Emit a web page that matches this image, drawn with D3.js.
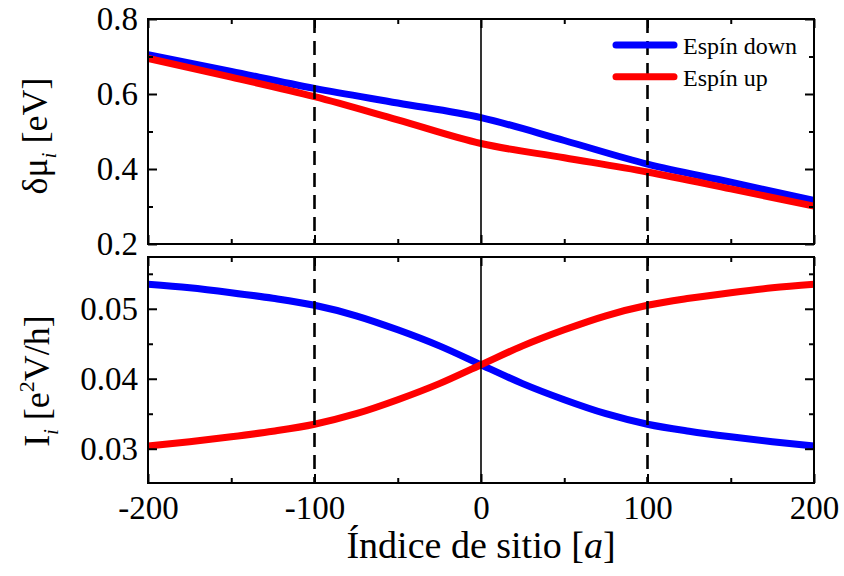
<!DOCTYPE html>
<html>
<head>
<meta charset="utf-8">
<script src="https://cdn.jsdelivr.net/npm/d3@7"></script>
<style>
  body { margin: 0; background: #fff; }
  svg text { font-family: "Liberation Serif", "Times New Roman", serif; fill: #000; }
</style>
</head>
<body>
<div id="chart"></div>
<script>
// data
var sitesTop = [-200, -150, -100, -50, 0, 50, 100, 150, 200];
var muDown = [0.705, 0.660, 0.615, 0.576, 0.537, 0.476, 0.413, 0.365, 0.316];
var muUp = [0.695, 0.645, 0.593, 0.531, 0.468, 0.430, 0.392, 0.347, 0.301];

var sitesBottom = [-200, -175, -150, -125, -100, -75, -50, -25, 0, 25, 50, 75, 100, 125, 150, 175, 200];
var curDown = [0.0535, 0.0530, 0.0523, 0.0515, 0.0505, 0.0490, 0.0470, 0.0447, 0.0420,
  0.0393, 0.0370, 0.0350, 0.0335, 0.0325, 0.0317, 0.0310, 0.0304];
var curUp = [0.0304, 0.0310, 0.0317, 0.0325, 0.0335, 0.0350, 0.0370, 0.0393, 0.0420,
  0.0447, 0.0470, 0.0490, 0.0505, 0.0515, 0.0523, 0.0530, 0.0535];

var xTicks = [-200, -100, 0, 100, 200];
var xMinor = [-150, -50, 50, 150];
var muTicks = [0.2, 0.4, 0.6, 0.8];
var muMinor = [0.3, 0.5, 0.7];
var curTicks = [0.03, 0.04, 0.05];
var curMinor = [0.035, 0.045, 0.055];
var dashedSites = [-100, 100];
var legendLabels = ["Espín down", "Espín up"];
var colors = ["#0000ff", "#ff0000"];

var w = 844, h = 576;
var left = 148, right = 814;

var svg = d3.select("#chart").append("svg")
  .attr("width", w)
  .attr("height", h);

var x = d3.scaleLinear().domain([-200, 200]).range([left, right]);
var yTop = d3.scaleLinear().domain([0.2, 0.8]).range([244, 19]);
var yBot = d3.scaleLinear().domain([0.0251, 0.0574]).range([483, 257]);

function drawPanel(y, sites, series, majors, minors, fmt, labelX) {
  var top = y.range()[1], bottom = y.range()[0];
  var g = svg.append("g");

  // curves
  var line = d3.line()
    .x(function(d) { return x(d[0]); })
    .y(function(d) { return y(d[1]); })
    .curve(d3.curveMonotoneX);
  series.forEach(function(vals, i) {
    g.append("path")
      .datum(sites.map(function(s, j) { return [s, vals[j]]; }))
      .attr("d", line)
      .attr("fill", "none")
      .attr("stroke", colors[i])
      .attr("stroke-width", 7)
      .attr("stroke-linejoin", "round");
  });

  // reference lines
  g.append("line")
    .attr("x1", x(0)).attr("x2", x(0))
    .attr("y1", top).attr("y2", bottom)
    .attr("stroke", "#000").attr("stroke-width", 1.6);
  dashedSites.forEach(function(s) {
    g.append("line")
      .attr("x1", x(s)).attr("x2", x(s))
      .attr("y1", top).attr("y2", bottom)
      .attr("stroke", "#000").attr("stroke-width", 2.6)
      .attr("stroke-dasharray", "14,8");
  });

  // axes, ticks pointing inside
  function ax(axis, tr, vals, size, pad, labels) {
    var a = g.append("g")
      .attr("transform", tr)
      .call(axis.tickValues(vals).tickSize(size).tickPadding(pad)
        .tickFormat(labels ? labels : function() { return ""; }));
    a.select(".domain").remove();
    a.selectAll(".tick line").attr("stroke", "#000").attr("stroke-width", 2);
    a.selectAll("text").style("font-size", "33px").attr("fill", "#000");
    return a;
  }
  ax(d3.axisBottom(x), "translate(0," + bottom + ")", xTicks, -9, 12.6, labelX ? function(d) { return d; } : null);
  ax(d3.axisBottom(x), "translate(0," + bottom + ")", xMinor, -5, 0, null);
  ax(d3.axisTop(x), "translate(0," + top + ")", xTicks, -9, 0, null);
  ax(d3.axisTop(x), "translate(0," + top + ")", xMinor, -5, 0, null);
  ax(d3.axisLeft(y), "translate(" + left + ",0)", majors, -9, 10, fmt);
  ax(d3.axisLeft(y), "translate(" + left + ",0)", minors, -5, 0, null);
  ax(d3.axisRight(y), "translate(" + right + ",0)", majors, -9, 0, null);
  ax(d3.axisRight(y), "translate(" + right + ",0)", minors, -5, 0, null);

  // frame
  g.append("rect")
    .attr("x", left).attr("y", top)
    .attr("width", right - left).attr("height", bottom - top)
    .attr("fill", "none").attr("stroke", "#000").attr("stroke-width", 2);
  return g;
}

drawPanel(yTop, sitesTop, [muDown, muUp], muTicks, muMinor, d3.format(".1f"), false);
drawPanel(yBot, sitesBottom, [curDown, curUp], curTicks, curMinor, d3.format(".2f"), true);

// legend
legendLabels.forEach(function(lab, i) {
  var ly = 45 + i * 31.7;
  svg.append("line")
    .attr("x1", 616).attr("x2", 674)
    .attr("y1", ly).attr("y2", ly)
    .attr("stroke", colors[i]).attr("stroke-width", 7)
    .attr("stroke-linecap", "round");
  svg.append("text")
    .attr("x", 683).attr("y", ly + 9)
    .style("font-size", "24px")
    .text(lab);
});

// axis titles
var t1 = svg.append("text")
  .attr("transform", "translate(47,136) rotate(-90)")
  .attr("text-anchor", "middle")
  .style("font-size", "36px");
t1.append("tspan").text("δμ");
t1.append("tspan").attr("dy", 9).style("font-size", "20px").style("font-style", "italic").text("i");
t1.append("tspan").attr("dy", -9).text(" [eV]");

var t2 = svg.append("text")
  .attr("transform", "translate(49,381) rotate(-90)")
  .attr("text-anchor", "middle")
  .style("font-size", "36px");
t2.append("tspan").text("I");
t2.append("tspan").attr("dy", 9).style("font-size", "20px").style("font-style", "italic").text("i");
t2.append("tspan").attr("dy", -9).text(" [e");
t2.append("tspan").attr("dy", -15).style("font-size", "22px").text("2");
t2.append("tspan").attr("dy", 15).text("V/h]");

var t3 = svg.append("text")
  .attr("x", x(0)).attr("y", 558)
  .attr("text-anchor", "middle")
  .style("font-size", "38px");
t3.append("tspan").text("Índice de sitio [");
t3.append("tspan").style("font-style", "italic").text("a");
t3.append("tspan").text("]");
</script>
</body>
</html>
